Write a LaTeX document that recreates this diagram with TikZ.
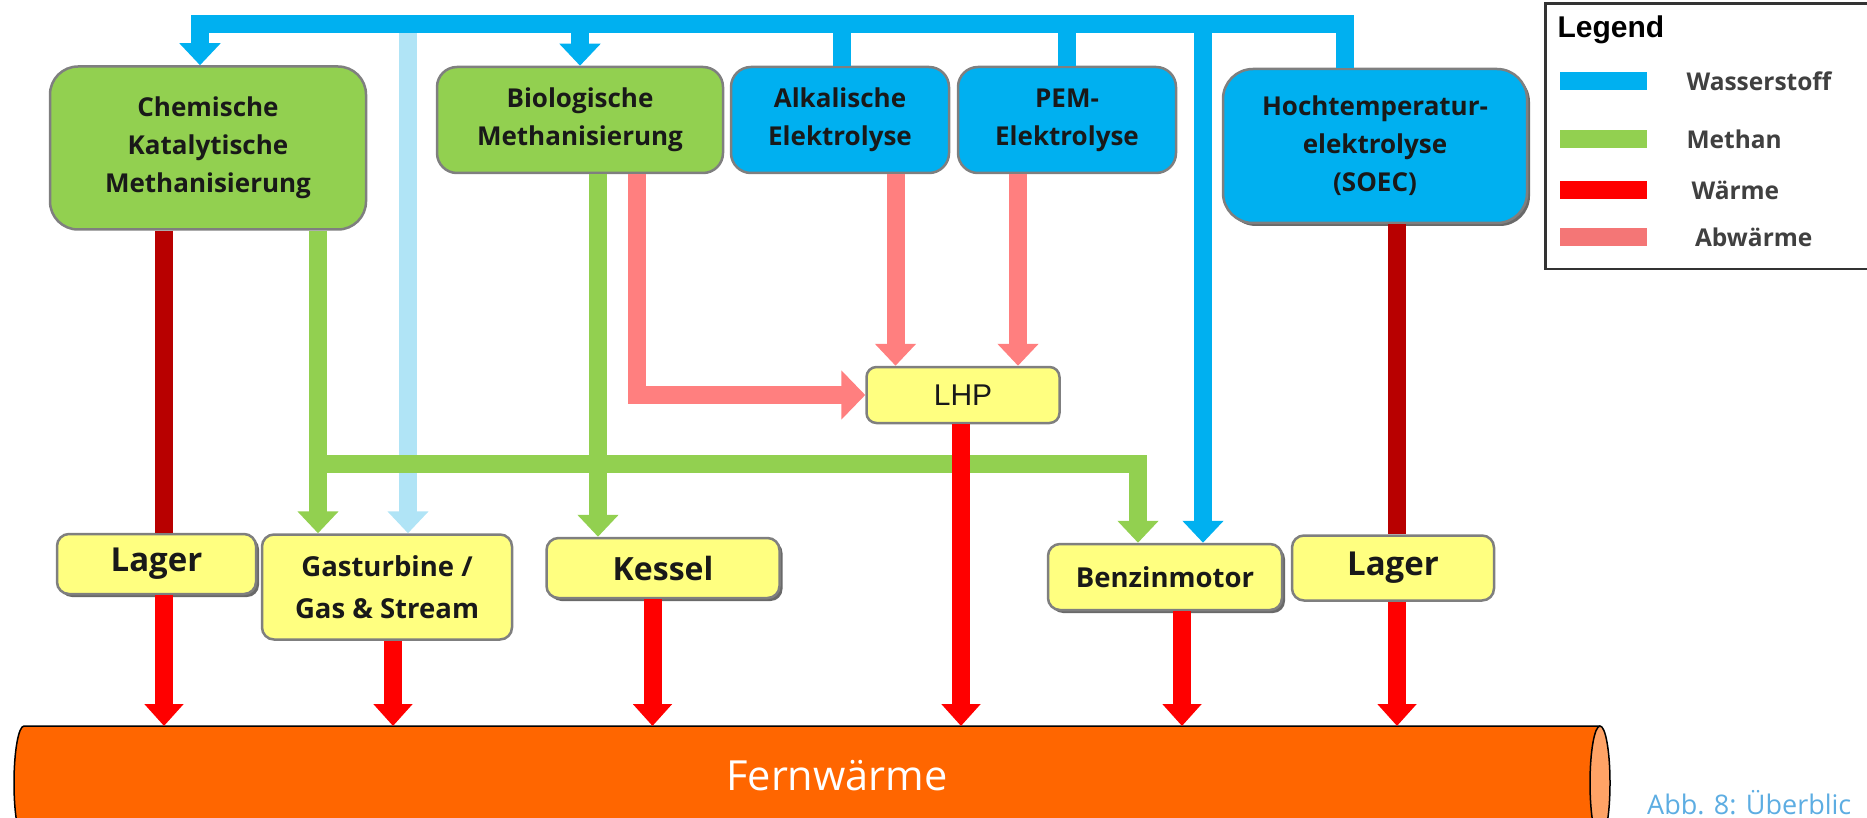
\documentclass[tikz,border=0pt]{standalone}
\usepackage{fontspec}
\setmainfont{Open Sans}
\newfontfamily\arialf{Liberation Sans}
\usetikzlibrary{arrows.meta,shadows}
\definecolor{hblue}{HTML}{00B0F0}
\definecolor{lblue}{HTML}{B0E4F6}
\definecolor{mgreen}{HTML}{92D050}
\definecolor{wred}{HTML}{FF0000}
\definecolor{dred}{HTML}{B80000}
\definecolor{pink}{HTML}{FF7F7F}
\definecolor{lpink}{HTML}{F47676}
\definecolor{yel}{HTML}{FFFF80}
\definecolor{fwor}{HTML}{FF6600}
\definecolor{capc}{HTML}{FFA366}
\definecolor{captc}{HTML}{5DADE2}
\definecolor{boxgray}{HTML}{7F7F7F}
\definecolor{txtgray}{HTML}{404040}
\tikzset{
  box/.style={draw=boxgray, line width=2.5pt, align=center, inner sep=0pt, text=black!90},
  topfont/.style={font=\bfseries\fontsize{26}{38}\selectfont},
  gbox/.style={box, topfont, fill=mgreen},
  bbox/.style={box, topfont, fill=hblue},
  ybox/.style={box, fill=yel, rounded corners=12pt},
  shad/.style={drop shadow={shadow xshift=3pt, shadow yshift=-3pt, fill=black!65, opacity=0.9}},
  flow/.style={line width=18pt, line join=miter},
  hb/.style={flow, draw=hblue},
  lb/.style={flow, draw=lblue},
  gr/.style={flow, draw=mgreen},
  pk/.style={flow, draw=pink},
  dr/.style={flow, draw=dred},
  rd/.style={flow, draw=wred},
  tipA/.style={-{Triangle[width=40pt,length=22pt]}},
  tipP/.style={-{Triangle[width=48pt,length=24pt]}},
  tipR/.style={-{Triangle[width=38pt,length=22pt]}},
  legtext/.style={anchor=west, text=txtgray, font=\bfseries\fontsize{24.5}{28}\selectfont},
}
\begin{document}
\begin{tikzpicture}[x=1pt,y=-1pt]
\useasboundingbox (0,0) rectangle (1867,818);
\begin{scope}
\clip (0,0) rectangle (1867,818);
% helper coordinates
\coordinate (bar) at (0,24.5);
\coordinate (gy) at (0,464);
\coordinate (fwtop) at (0,726);
\coordinate (xCH) at (200,0);
\coordinate (xLB) at (408,0);
\coordinate (xAL) at (842,0);
\coordinate (xBZ) at (1203,0);
\coordinate (xSO) at (1345,0);
\coordinate (xG1) at (318,0);
\coordinate (xG2) at (1138,0);
\coordinate (xG3) at (598,0);
\coordinate (xP1) at (637,0);
\coordinate (xP2) at (895.5,0);
\coordinate (xP3) at (1018,0);
\coordinate (xR1) at (164,0);
\coordinate (xR2) at (393,0);
\coordinate (xR3) at (652.5,0);
\coordinate (xR4) at (961,0);
\coordinate (xR5) at (1182,0);
\coordinate (xR6) at (1397,0);

% Fernwaerme pipe
\filldraw[fill=fwor, draw=black, line width=1.5pt] (1600,726) -- (24,726)
  arc[start angle=270, end angle=90, x radius=10, y radius=57] -- (1600,840);
\filldraw[fill=capc, draw=black, line width=1.5pt] (1600,783) ellipse [x radius=10, y radius=57];
\node[text=white, font=\fontsize{41.5}{48}\selectfont] (fw) at (837,776) {Fernwärme};

% boxes
\node[gbox, minimum width=316pt, minimum height=163pt, rounded corners=28pt] (chem) at (208,148) {Chemische\\Katalytische\\Methanisierung};
\node[gbox, minimum width=286pt, minimum height=106pt, rounded corners=20pt] (bio) at (580,120) {Biologische\\Methanisierung};
\node[bbox, minimum width=218pt, minimum height=106pt, rounded corners=20pt] (alk) at (840,120) {Alkalische\\Elektrolyse};
\node[bbox, minimum width=218pt, minimum height=106pt, rounded corners=20pt] (pem) at (1067,120) {PEM-\\Elektrolyse};
\node[bbox, shad, minimum width=304pt, minimum height=154pt, rounded corners=30pt] (soec) at (1375,146) {Hochtemperatur-\\elektrolyse\\(SOEC)};
\node[ybox, minimum width=193pt, minimum height=56pt, rounded corners=10pt, font=\arialf\fontsize{30}{34}\selectfont] (lhp) at (963,395) {LHP};
\node[ybox, shad, minimum width=199pt, minimum height=60pt, font=\bfseries\fontsize{33}{38}\selectfont] (lagerL) at (156.5,564) {Lager};
\node[ybox, minimum width=250pt, minimum height=105pt, font=\bfseries\fontsize{27.5}{42}\selectfont] (gas) at (387,587) {Gasturbine /\\Gas \& Stream};
\node[ybox, shad, minimum width=233pt, minimum height=60pt, font=\bfseries\fontsize{32}{38}\selectfont] (kessel) at (663,568) {Kessel};
\node[ybox, shad, minimum width=234pt, minimum height=66pt, font=\bfseries\fontsize{27.5}{32}\selectfont] (benz) at (1165,577) {Benzinmotor};
\node[ybox, minimum width=202pt, minimum height=65pt, font=\bfseries\fontsize{33}{38}\selectfont] (lagerR) at (1393,568) {Lager};

% light blue (hydrogen, light)
\draw[lb, tipA] (xLB |- bar) -- (xLB |- gas.north);

% methane
\draw[gr, tipA] (xG1 |- chem.south) -- (xG1 |- gas.north);
\draw[gr, tipA] (xG1 |- gy) -| (xG2 |- benz.north);
\draw[gr, tipA] (xG3 |- bio.south) -- (xG3 |- kessel.north);

% waste heat
\draw[pk, tipP] (xP1 |- bio.south) |- (lhp.west);
\draw[pk, tipA] (xP2 |- alk.south) -- (xP2 |- lhp.north);
\draw[pk, tipA] (xP3 |- pem.south) -- (xP3 |- lhp.north);

% heat
\draw[dr] (xR1 |- chem.south) -- (xR1 |- lagerL.north);
\draw[dr] (xR6 |- soec.south) -- (xR6 |- lagerR.north);
\draw[rd, tipR] (xR1 |- lagerL.south) -- (xR1 |- fwtop);
\draw[rd, tipR] (xR2 |- gas.south) -- (xR2 |- fwtop);
\draw[rd, tipR] (xR3 |- kessel.south) -- (xR3 |- fwtop);
\draw[rd, tipR] (xR4 |- lhp.south) -- (xR4 |- fwtop);
\draw[rd, tipR] (xR5 |- benz.south) -- (xR5 |- fwtop);
\draw[rd, tipR] (xR6 |- lagerR.south) -- (xR6 |- fwtop);

% hydrogen
\draw[hb, tipA] (xSO |- soec.north) -- (xSO |- bar) -| (xCH |- chem.north);
\draw[hb, tipA] (bio.north |- bar) -- (bio.north);
\draw[hb] (xAL |- alk.north) -- (xAL |- bar);
\draw[hb] (pem.north) -- (pem.north |- bar);
\draw[hb, tipA] (xBZ |- bar) -- (xBZ |- benz.north);

% legend
\draw[draw=black!80, line width=2.5pt] (1545.5,3.6) rectangle (1900,269);
\node[anchor=west, font=\arialf\bfseries\fontsize{30}{34}\selectfont] (legtitle) at (1554,30) {Legend};
\fill[hblue] (1560,72) rectangle (1647,90);
\fill[mgreen] (1560,130) rectangle (1647,148);
\fill[wred] (1560,181.5) rectangle (1647,199.5);
\fill[lpink] (1560,228) rectangle (1647,246);
\node[legtext] (lw) at (1683,81) {Wasserstoff};
\node[legtext] (lm) at (1683,139) {Methan};
\node[legtext] (lh) at (1688,190.5) {Wärme};
\node[legtext] (la) at (1691.5,237) {Abwärme};

% caption
\node[anchor=west, text=captc, font=\fontsize{27}{31}\selectfont, inner sep=0pt] (cap) at (1647,803) {Abb. 8: Überblic};
\end{scope}
\end{tikzpicture}
\end{document}
